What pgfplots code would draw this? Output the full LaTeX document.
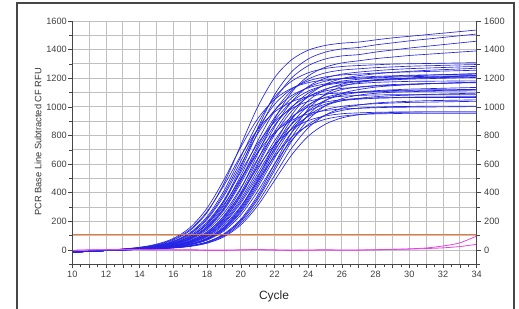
\documentclass[border=0pt]{standalone}
\usepackage{fontspec}
\setmainfont{Liberation Sans}
\usepackage{pgfplots}
\pgfplotsset{compat=1.18}
\definecolor{pcrblue}{RGB}{35,35,228}
\definecolor{pcrorange}{RGB}{240,120,45}
\definecolor{pcrmag}{RGB}{225,70,225}
\definecolor{gridgray}{RGB}{192,192,192}
\definecolor{axgray}{RGB}{70,70,70}
\pgfplotsset{
  common/.style={scale only axis, width=404.4pt, height=243.3pt,
    at={(72.3pt,43.7pt)}, anchor=south west,
    xmin=10, xmax=34, ymin=-100, ymax=1600,
    scaled y ticks=false,
    /pgf/number format/1000 sep={},
    /pgf/number format/assume math mode=true,
    tick label style={font=\fontsize{9.2}{10}\selectfont, text=black!75}},
  pcr/.style={pcrblue, line width=0.65pt, no markers, smooth},
  mag/.style={pcrmag, line width=0.8pt, no markers, smooth},
}
\begin{document}
\begin{tikzpicture}[x=1pt,y=1pt]
\path[use as bounding box] (0,0) rectangle (519,308);
\draw[axgray, line width=1.3pt] (17,-2) -- (17,305) -- (514,305) -- (514,-2);
\begin{axis}[common, axis line style={draw=none},
  xtick={10,12,...,34}, minor xtick={11,13,...,33},
  ytick={0,200,...,1600}, minor ytick={-100,100,...,1500},
  grid=both, major grid style={gridgray, line width=0.9pt},
  minor grid style={gridgray, line width=0.9pt},
  major tick length=0pt, minor tick length=0pt,
  xticklabel style={yshift=-3pt}, yticklabel style={xshift=-2pt}]
% blue amplification curves, cycles 10..34
\addplot[pcr] coordinates {(10,-14)(11,-8)(12,-2)(13,6)(14,18)(15,37)(16,75)(17,145)(18,269)(19,451)(20,660)(21,841)(22,964)(23,1035)(24,1072)(25,1090)(26,1097)(27,1102)(28,1105)(29,1109)(30,1111)(31,1113)(32,1115)(33,1117)(34,1119)};
\addplot[pcr] coordinates {(10,-14)(11,-8)(12,-1)(13,7)(14,19)(15,41)(16,81)(17,158)(18,293)(19,491)(20,719)(21,917)(22,1051)(23,1129)(24,1169)(25,1188)(26,1197)(27,1201)(28,1207)(29,1213)(30,1217)(31,1221)(32,1225)(33,1229)(34,1233)};
\addplot[pcr] coordinates {(10,-14)(11,-9)(12,-2)(13,6)(14,16)(15,34)(16,69)(17,137)(18,262)(19,466)(20,733)(21,999)(22,1203)(23,1328)(24,1396)(25,1429)(26,1445)(27,1453)(28,1468)(29,1482)(30,1493)(31,1504)(32,1515)(33,1526)(34,1537)};
\addplot[pcr] coordinates {(10,-14)(11,-9)(12,-2)(13,5)(14,15)(15,31)(16,62)(17,122)(18,233)(19,413)(20,650)(21,886)(22,1067)(23,1178)(24,1238)(25,1268)(26,1282)(27,1289)(28,1294)(29,1299)(30,1301)(31,1303)(32,1305)(33,1307)(34,1309)};
\addplot[pcr] coordinates {(10,-14)(11,-9)(12,-3)(13,4)(14,14)(15,29)(16,57)(17,112)(18,214)(19,379)(20,595)(21,811)(22,976)(23,1078)(24,1133)(25,1160)(26,1173)(27,1180)(28,1188)(29,1195)(30,1200)(31,1205)(32,1210)(33,1215)(34,1220)};
\addplot[pcr] coordinates {(10,-14)(11,-9)(12,-3)(13,4)(14,13)(15,27)(16,53)(17,103)(18,196)(19,347)(20,545)(21,743)(22,894)(23,987)(24,1038)(25,1062)(26,1074)(27,1080)(28,1083)(29,1085)(30,1085)(31,1085)(32,1085)(33,1085)(34,1085)};
\addplot[pcr] coordinates {(10,-15)(11,-9)(12,-3)(13,4)(14,12)(15,25)(16,49)(17,95)(18,180)(19,318)(20,500)(21,681)(22,820)(23,905)(24,951)(25,974)(26,985)(27,990)(28,994)(29,997)(30,998)(31,999)(32,1000)(33,1001)(34,1002)};
\addplot[pcr] coordinates {(10,-14)(11,-9)(12,-2)(13,5)(14,14)(15,30)(16,59)(17,116)(18,222)(19,394)(20,620)(21,845)(22,1017)(23,1124)(24,1181)(25,1209)(26,1223)(27,1229)(28,1236)(29,1241)(30,1244)(31,1247)(32,1250)(33,1253)(34,1256)};
\addplot[pcr] coordinates {(10,-15)(11,-9)(12,-3)(13,3)(14,12)(15,24)(16,48)(17,95)(18,186)(19,346)(20,580)(21,850)(22,1084)(23,1243)(24,1335)(25,1382)(26,1405)(27,1415)(28,1433)(29,1447)(30,1461)(31,1473)(32,1485)(33,1497)(34,1509)};
\addplot[pcr] coordinates {(10,-15)(11,-9)(12,-3)(13,3)(14,11)(15,24)(16,47)(17,92)(18,180)(19,334)(20,560)(21,820)(22,1046)(23,1200)(24,1288)(25,1334)(26,1356)(27,1365)(28,1383)(29,1397)(30,1411)(31,1423)(32,1435)(33,1447)(34,1459)};
\addplot[pcr] coordinates {(10,-15)(11,-9)(12,-3)(13,3)(14,11)(15,22)(16,44)(17,86)(18,167)(19,310)(20,519)(21,761)(22,970)(23,1112)(24,1194)(25,1237)(26,1257)(27,1266)(28,1274)(29,1279)(30,1284)(31,1287)(32,1290)(33,1293)(34,1296)};
\addplot[pcr] coordinates {(10,-15)(11,-9)(12,-3)(13,3)(14,10)(15,21)(16,42)(17,82)(18,159)(19,295)(20,495)(21,725)(22,925)(23,1060)(24,1138)(25,1179)(26,1198)(27,1207)(28,1213)(29,1217)(30,1221)(31,1223)(32,1225)(33,1227)(34,1229)};
\addplot[pcr] coordinates {(10,-15)(11,-9)(12,-3)(13,3)(14,10)(15,20)(16,40)(17,77)(18,150)(19,279)(20,467)(21,683)(22,871)(23,999)(24,1073)(25,1111)(26,1129)(27,1137)(28,1146)(29,1151)(30,1157)(31,1161)(32,1165)(33,1169)(34,1173)};
\addplot[pcr] coordinates {(10,-15)(11,-9)(12,-3)(13,2)(14,9)(15,19)(16,37)(17,72)(18,140)(19,259)(20,434)(21,636)(22,811)(23,929)(24,998)(25,1033)(26,1050)(27,1058)(28,1063)(29,1065)(30,1068)(31,1069)(32,1070)(33,1071)(34,1072)};
\addplot[pcr] coordinates {(10,-15)(11,-9)(12,-4)(13,2)(14,8)(15,18)(16,34)(17,66)(18,127)(19,235)(20,394)(21,576)(22,735)(23,842)(24,904)(25,936)(26,952)(27,958)(28,962)(29,964)(30,965)(31,965)(32,965)(33,965)(34,965)};
\addplot[pcr] coordinates {(10,-15)(11,-9)(12,-3)(13,3)(14,10)(15,21)(16,41)(17,80)(18,155)(19,288)(20,483)(21,707)(22,902)(23,1034)(24,1110)(25,1150)(26,1168)(27,1177)(28,1184)(29,1189)(30,1194)(31,1197)(32,1200)(33,1203)(34,1206)};
\addplot[pcr] coordinates {(10,-15)(11,-9)(12,-4)(13,2)(14,8)(15,17)(16,33)(17,64)(18,125)(19,240)(20,426)(21,670)(22,913)(23,1100)(24,1215)(25,1277)(26,1307)(27,1322)(28,1337)(29,1348)(30,1359)(31,1367)(32,1375)(33,1383)(34,1391)};
\addplot[pcr] coordinates {(10,-15)(11,-9)(12,-4)(13,2)(14,8)(15,16)(16,31)(17,60)(18,118)(19,226)(20,401)(21,630)(22,859)(23,1034)(24,1142)(25,1200)(26,1229)(27,1243)(28,1253)(29,1261)(30,1267)(31,1271)(32,1275)(33,1279)(34,1283)};
\addplot[pcr] coordinates {(10,-15)(11,-9)(12,-4)(13,1)(14,7)(15,15)(16,29)(17,57)(18,111)(19,212)(20,375)(21,590)(22,804)(23,968)(24,1069)(25,1124)(26,1150)(27,1163)(28,1171)(29,1175)(30,1178)(31,1179)(32,1180)(33,1181)(34,1182)};
\addplot[pcr] coordinates {(10,-15)(11,-9)(12,-4)(13,1)(14,7)(15,15)(16,28)(17,54)(18,105)(19,201)(20,356)(21,560)(22,763)(23,919)(24,1015)(25,1066)(26,1092)(27,1104)(28,1113)(29,1119)(30,1124)(31,1127)(32,1130)(33,1133)(34,1136)};
\addplot[pcr] coordinates {(10,-15)(11,-9)(12,-4)(13,1)(14,7)(15,14)(16,26)(17,50)(18,97)(19,185)(20,328)(21,515)(22,702)(23,845)(24,933)(25,980)(26,1004)(27,1015)(28,1022)(29,1027)(30,1031)(31,1033)(32,1035)(33,1037)(34,1039)};
\addplot[pcr] coordinates {(10,-15)(11,-9)(12,-4)(13,1)(14,6)(15,13)(16,25)(17,47)(18,91)(19,173)(20,306)(21,480)(22,654)(23,787)(24,869)(25,913)(26,935)(27,946)(28,951)(29,953)(30,955)(31,955)(32,955)(33,955)(34,955)};
\addplot[pcr] coordinates {(10,-15)(11,-9)(12,-4)(13,2)(14,8)(15,16)(16,30)(17,58)(18,114)(19,217)(20,385)(21,605)(22,825)(23,993)(24,1096)(25,1152)(26,1180)(27,1193)(28,1202)(29,1207)(30,1211)(31,1213)(32,1215)(33,1217)(34,1219)};
\addplot[pcr] coordinates {(10,-15)(11,-9)(12,-4)(13,1)(14,7)(15,14)(16,27)(17,52)(18,101)(19,192)(20,341)(21,535)(22,729)(23,877)(24,969)(25,1018)(26,1043)(27,1054)(28,1060)(29,1063)(30,1065)(31,1065)(32,1065)(33,1065)(34,1065)};
\addplot[pcr] coordinates {(10,-15)(11,-10)(12,-4)(13,1)(14,6)(15,12)(16,23)(17,42)(18,83)(19,162)(20,300)(21,503)(22,737)(23,940)(24,1078)(25,1157)(26,1198)(27,1218)(28,1231)(29,1241)(30,1248)(31,1255)(32,1260)(33,1265)(34,1270)};
\addplot[pcr] coordinates {(10,-15)(11,-10)(12,-4)(13,1)(14,6)(15,12)(16,21)(17,40)(18,78)(19,152)(20,281)(21,471)(22,689)(23,879)(24,1008)(25,1082)(26,1121)(27,1139)(28,1149)(29,1156)(30,1159)(31,1163)(32,1165)(33,1167)(34,1169)};
\addplot[pcr] coordinates {(10,-15)(11,-10)(12,-4)(13,1)(14,5)(15,11)(16,20)(17,38)(18,73)(19,141)(20,262)(21,438)(22,642)(23,818)(24,938)(25,1007)(26,1043)(27,1060)(28,1071)(29,1078)(30,1082)(31,1087)(32,1090)(33,1093)(34,1096)};
\addplot[pcr] coordinates {(10,-15)(11,-10)(12,-4)(13,0)(14,5)(15,11)(16,19)(17,35)(18,69)(19,133)(20,245)(21,410)(22,600)(23,765)(24,877)(25,942)(26,975)(27,991)(28,998)(29,1002)(30,1003)(31,1005)(32,1005)(33,1005)(34,1005)};
\addplot[pcr] coordinates {(10,-15)(11,-10)(12,-4)(13,1)(14,6)(15,12)(16,22)(17,41)(18,81)(19,157)(20,291)(21,487)(22,713)(23,909)(24,1043)(25,1119)(26,1159)(27,1178)(28,1190)(29,1197)(30,1202)(31,1207)(32,1210)(33,1213)(34,1216)};
\addplot[pcr] coordinates {(10,-15)(11,-10)(12,-4)(13,1)(14,5)(15,11)(16,21)(17,39)(18,75)(19,146)(20,271)(21,455)(22,665)(23,849)(24,973)(25,1045)(26,1082)(27,1100)(28,1108)(29,1114)(30,1116)(31,1119)(32,1120)(33,1121)(34,1122)};
\addplot[pcr] coordinates {(10,-15)(11,-10)(12,-4)(13,0)(14,5)(15,10)(16,17)(17,30)(18,57)(19,113)(20,215)(21,382)(22,600)(23,818)(24,984)(25,1087)(26,1143)(27,1170)(28,1185)(29,1194)(30,1199)(31,1203)(32,1205)(33,1207)(34,1209)};
\addplot[pcr] coordinates {(10,-15)(11,-10)(12,-4)(13,0)(14,4)(15,9)(16,16)(17,28)(18,54)(19,105)(20,199)(21,353)(22,555)(23,756)(24,910)(25,1006)(26,1057)(27,1082)(28,1095)(29,1102)(30,1106)(31,1109)(32,1110)(33,1111)(34,1112)};
\addplot[pcr] coordinates {(10,-15)(11,-10)(12,-4)(13,0)(14,4)(15,9)(16,15)(17,27)(18,50)(19,98)(20,187)(21,331)(22,520)(23,709)(24,853)(25,942)(26,990)(27,1013)(28,1027)(29,1034)(30,1039)(31,1043)(32,1045)(33,1047)(34,1049)};
\addplot[pcr] coordinates {(10,-15)(11,-10)(12,-4)(13,0)(14,4)(15,8)(16,14)(17,25)(18,47)(19,92)(20,175)(21,309)(22,485)(23,661)(24,795)(25,878)(26,923)(27,945)(28,955)(29,961)(30,963)(31,965)(32,965)(33,965)(34,965)};
\addplot[pcr] coordinates {(10,-15)(11,-10)(12,-4)(13,0)(14,4)(15,9)(16,16)(17,29)(18,55)(19,108)(20,206)(21,366)(22,575)(23,784)(24,943)(25,1042)(26,1095)(27,1121)(28,1138)(29,1148)(30,1155)(31,1161)(32,1165)(33,1169)(34,1173)};
% magenta (negative) curves
\addplot[mag] coordinates {(10,-4)(11,0)(12,2)(13,3)(14,3)(15,2)(16,1)(17,0)(18,-3)(19,-3)(20,0)(21,2)(22,-1)(23,-3)(24,-2)(25,0)(26,-2)(27,-1)(28,1)(29,4)(30,8)(31,14)(32,28)(33,50)(34,98)};
\addplot[mag] coordinates {(10,-2)(11,1)(12,2)(13,2)(14,1)(15,0)(16,0)(17,1)(18,0)(19,-1)(20,1)(21,3)(22,1)(23,-1)(24,0)(25,1)(26,0)(27,0)(28,2)(29,4)(30,6)(31,10)(32,15)(33,24)(34,40)};
% threshold
\addplot[pcrorange, line width=1.4pt, no markers] coordinates {(10,110)(34,110)};
\end{axis}
\begin{axis}[common, axis line style={draw=none}, clip=false,
  xtick={10,11,...,34}, minor x tick num=1, xticklabels={}, xtick pos=left,
  ytick={0,200,...,1600}, minor ytick={-100,100,...,1500},
  ytick pos=both, yticklabel pos=right,
  tick align=outside, major tick length=4pt, minor tick length=3pt,
  tick style={axgray, line width=0.6pt},
  yticklabel style={xshift=0pt}]
\addplot[draw=none] coordinates {(10,0)};
\draw[axgray, line width=0.9pt] (rel axis cs:0,1) -- (rel axis cs:0,0) -- (rel axis cs:1,0) -- (rel axis cs:1,1);
\end{axis}
\node[font=\fontsize{9.3}{11}\selectfont, rotate=90, text=black!80] at (38,166) {PCR Base Line Subtracted CF RFU};
\node[font=\fontsize{12}{14}\selectfont, text=black!85] at (274,12) {Cycle};
\end{tikzpicture}
\end{document}
